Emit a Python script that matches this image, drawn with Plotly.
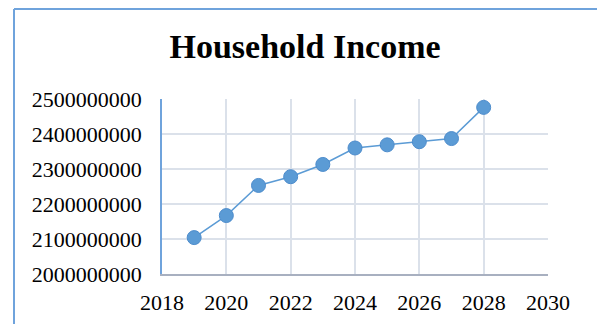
import plotly.graph_objects as go

years = [2019, 2020, 2021, 2022, 2023, 2024, 2025, 2026, 2027, 2028]
income = [2104000000, 2167000000, 2253000000, 2278000000, 2313000000,
          2360000000, 2369000000, 2378000000, 2387000000, 2476000000]
title_text = "Household Income"

W, H = 597, 324
L, R, T, B = 162, 49, 99, 50
pw, ph = W - L - R, H - T - B

font = "Liberation Serif, Times New Roman, serif"

fig = go.Figure()
fig.add_trace(go.Scatter(
    x=years, y=income, mode="lines+markers",
    line=dict(color="#5b9bd5", width=1.5),
    marker=dict(size=14, color="#5b9bd5", line=dict(color="#4d8ccc", width=1)),
    cliponaxis=False, showlegend=False,
))

def px_x(p):
    return (p - L) / pw

def px_y(p):
    return (H - B - p) / ph

# outer frame (left and top edges)
fig.add_shape(type="line", xref="paper", yref="paper",
              x0=px_x(14), x1=px_x(14), y0=px_y(9), y1=px_y(H + 5),
              line=dict(color="#6fa3dc", width=2))
fig.add_shape(type="line", xref="paper", yref="paper",
              x0=px_x(14), x1=px_x(W + 5), y0=px_y(9), y1=px_y(9),
              line=dict(color="#6fa3dc", width=2))

fig.update_layout(
    width=W, height=H,
    margin=dict(l=L, r=R, t=T, b=B, autoexpand=False),
    paper_bgcolor="white", plot_bgcolor="white",
    title=dict(text="<b>" + title_text + "</b>", x=305 / W, xanchor="center",
               xref="container", y=1 - 34 / H, yanchor="top", yref="container",
               font=dict(family=font, size=34, color="black")),
    xaxis=dict(range=[2018, 2030], dtick=2, tick0=2018, automargin=False,
               showgrid=True, gridcolor="#dbe1ea", gridwidth=1.5,
               showline=True, linecolor="#a8b0c0", linewidth=1.5,
               ticks="", ticklabelstandoff=8,
               tickfont=dict(family=font, size=22, color="black"),
               zeroline=False, fixedrange=True),
    yaxis=dict(range=[2000000000, 2500000000], dtick=100000000, automargin=False,
               showgrid=True, gridcolor="#dbe1ea", gridwidth=1.5,
               showline=True, linecolor="#6fa3dc", linewidth=1.5,
               ticks="", ticklabelstandoff=14, tickformat="d",
               tickfont=dict(family=font, size=22, color="black"),
               zeroline=False, fixedrange=True),
)

fig.write_html("out.html")
